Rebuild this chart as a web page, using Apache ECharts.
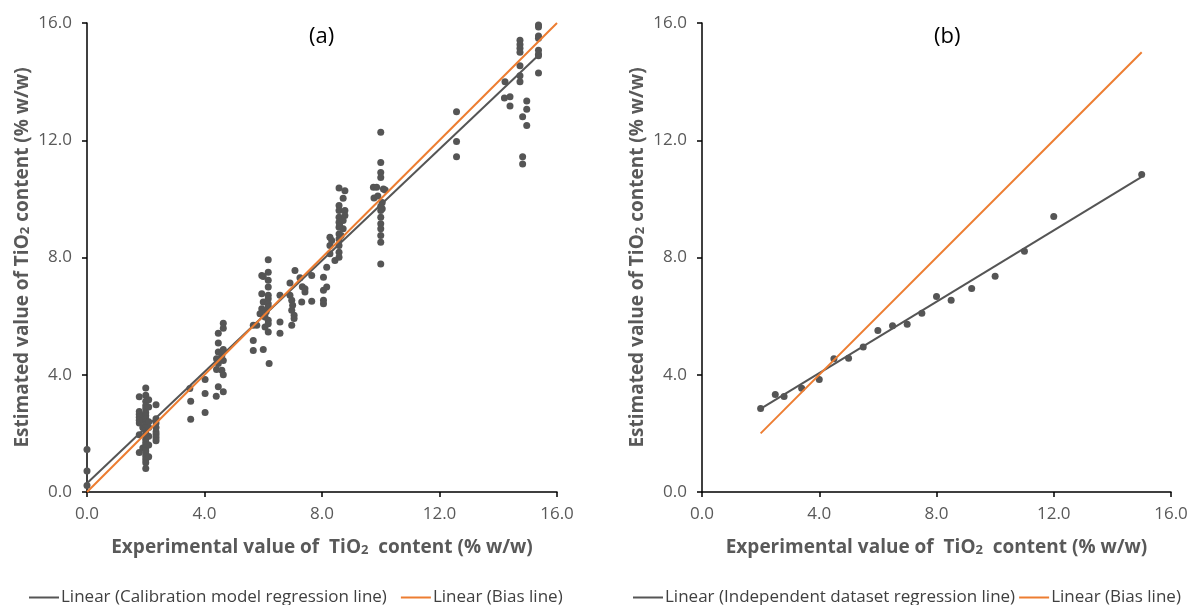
<!DOCTYPE html>
<html>
<head>
<meta charset="utf-8">
<title>TiO2 calibration and independent validation</title>
<script src="https://cdn.jsdelivr.net/npm/echarts@6/dist/echarts.min.js"></script>
<style>
  html, body { margin: 0; padding: 0; background: #fff; }
  #chart { width: 1201px; height: 605px; }
</style>
</head>
<body>
<div id="chart"></div>
<script>
// ---- Data: panel (a) calibration set, [experimental, estimated] (% w/w) ----
const calibrationPoints = [
  [0, 1.45], [0, 0.72], [0, 0.22],
  [1.78, 3.25], [1.78, 2.75], [1.78, 2.65], [1.78, 2.55], [1.78, 2.45], [1.78, 2.35], [1.78, 1.95], [1.78, 1.35],
  [1.9, 2.6], [1.9, 2.45], [1.9, 2.2], [1.9, 1.5],
  [2.0, 3.55], [2.0, 3.3], [2.0, 3.1], [2.0, 2.95], [2.0, 2.85], [2.0, 2.7], [2.0, 2.6], [2.0, 2.5], [2.0, 2.4],
  [2.0, 2.3], [2.0, 2.2], [2.0, 2.1], [2.0, 2.0], [2.0, 1.9], [2.0, 1.8], [2.0, 1.7], [2.0, 1.6], [2.0, 1.5],
  [2.0, 1.4], [2.0, 1.3], [2.0, 1.2], [2.0, 1.1], [2.0, 1.0], [2.0, 0.8],
  [2.1, 3.15], [2.1, 2.9], [2.1, 2.4], [2.1, 2.2], [2.1, 1.9], [2.1, 1.6], [2.1, 1.2],
  [2.35, 2.98], [2.35, 2.5], [2.35, 2.35], [2.35, 2.2], [2.35, 2.05], [2.35, 1.95], [2.35, 1.85], [2.35, 1.75],
  [3.5, 3.53], [3.53, 3.1], [3.53, 2.48], [4.02, 3.84], [4.02, 3.36], [4.02, 2.71],
  [4.47, 5.42], [4.64, 5.76], [4.64, 5.59], [4.47, 5.08], [4.47, 4.78], [4.64, 4.86], [4.59, 4.66], [4.41, 4.55],
  [4.64, 4.49], [4.47, 4.38], [4.41, 4.18], [4.59, 4.15], [4.64, 4.0], [4.47, 3.59], [4.4, 3.27], [4.64, 3.42],
  [5.66, 5.69], [5.66, 5.17], [5.66, 4.83], [6.0, 4.86], [6.2, 4.38],
  [6.17, 7.92], [5.95, 7.39], [6.17, 7.5], [6.17, 7.22], [6.0, 7.35], [6.17, 6.99], [5.95, 6.76], [6.17, 6.71],
  [6.17, 6.59], [6.0, 6.48], [6.17, 6.42], [5.95, 6.25], [6.17, 6.31], [5.89, 6.08], [6.06, 5.97], [6.17, 5.86],
  [5.78, 5.69], [6.06, 5.63], [6.17, 5.74], [6.17, 5.46], [6.1, 6.15],
  [6.57, 6.71], [6.57, 5.8], [6.57, 5.42],
  [7.08, 7.56], [7.25, 7.31], [6.91, 7.13], [7.33, 7.0], [7.42, 6.93], [7.42, 6.82], [6.91, 6.71], [6.97, 6.54],
  [7.0, 6.37], [6.97, 6.2], [7.05, 6.03], [7.05, 5.92], [7.31, 6.48], [6.97, 5.69], [7.65, 7.39], [7.65, 6.51],
  [8.05, 7.33], [8.05, 6.88], [8.16, 6.99], [8.05, 6.54], [8.05, 6.42], [8.16, 7.67], [8.27, 8.13], [8.27, 8.41],
  [8.27, 8.69], [8.44, 7.9], [8.33, 8.58],
  [8.58, 10.37], [8.78, 10.28], [8.72, 10.02], [8.58, 9.77], [8.58, 9.6], [8.78, 9.6], [8.58, 9.37], [8.78, 9.43],
  [8.58, 9.2], [8.72, 9.26], [8.58, 9.03], [8.72, 8.98], [8.58, 8.8], [8.58, 8.63], [8.58, 8.41], [8.58, 8.18],
  [8.58, 8.01], [8.65, 8.75], [8.6, 9.1],
  [10.0, 12.27], [10.0, 11.24], [10.0, 10.9], [10.0, 10.73], [9.75, 10.4], [9.86, 10.4], [10.09, 10.34],
  [10.15, 10.3], [9.77, 10.03], [10.05, 9.88], [10.05, 9.66], [10.0, 9.6], [10.0, 9.37], [10.0, 9.15],
  [10.0, 8.98], [10.0, 8.75], [10.0, 8.52], [10.0, 7.78], [10.0, 9.75], [9.9, 10.1],
  [12.58, 12.97], [12.58, 11.96], [12.58, 11.44],
  [14.21, 13.44], [14.4, 13.48], [14.4, 13.17], [14.23, 14.0],
  [14.74, 15.41], [14.74, 15.27], [14.74, 15.14], [14.74, 15.0], [14.74, 14.54], [14.74, 14.2], [14.74, 14.0],
  [14.97, 13.34], [14.97, 13.06], [14.83, 12.8], [14.97, 12.5], [14.83, 11.44], [14.83, 11.19],
  [15.37, 15.93], [15.37, 15.86], [15.37, 15.56], [15.37, 15.48], [15.37, 15.07], [15.37, 14.93],
  [15.37, 14.88], [15.37, 14.29]
];
// Trendline (Excel linear fit) endpoints for the calibration set
const calibrationTrend = [[0, 0.3], [15.37, 14.9]];
// Ideal y = x line over the calibration range
const calibrationBias = [[0, 0], [16, 16]];

// ---- Data: panel (b) independent dataset ----
const independentX = [2.0, 2.5, 2.8, 3.4, 4.0, 4.5, 5.0, 5.5, 6.0, 6.5, 7.0, 7.5, 8.0, 8.5, 9.2, 10.0, 11.0, 12.0, 15.0];
const independentY = [2.85, 3.33, 3.26, 3.54, 3.84, 4.55, 4.56, 4.95, 5.51, 5.67, 5.72, 6.1, 6.67, 6.54, 6.94, 7.36, 8.21, 9.4, 10.83];
const independentTrend = [[1.98, 2.83], [15.0, 10.75]];
const independentBias = [[2, 2], [15, 15]];

// ---- Axis ticks ----
const axisMin = 0, axisMax = 16, axisStep = 4;

const TEXT = '#595959';
const MARK = '#555555';
const ORANGE = '#ED7D31';
const FONT = '"Open Sans", Lato, sans-serif';

const nameRich = {
  n: { fontFamily: FONT, fontSize: 19, fontWeight: 'bold', color: TEXT },
  s: { fontFamily: FONT, fontSize: 13, fontWeight: 'bold', color: TEXT, padding: [6, 0, 0, 0] }
};
const xName = '{n|Experimental value of  TiO}{s|2}{n|  content (% w/w)}';
const yName = '{n|Estimated value of TiO}{s|2}{n| content (% w/w)}';

function valueAxis(gridIndex, name, isY) {
  return {
    type: 'value', gridIndex,
    min: axisMin, max: axisMax, interval: axisStep,
    name, nameLocation: 'middle', nameGap: isY ? 55 : 46,
    nameTextStyle: { rich: nameRich },
    axisLine: { show: true, onZero: false, lineStyle: { color: '#000', width: 1.5 } },
    axisTick: { show: true, inside: false, length: 5, lineStyle: { color: '#000', width: 1.5 } },
    axisLabel: {
      color: TEXT, fontFamily: FONT, fontSize: 17, margin: isY ? 15 : 14,
      formatter: v => v.toFixed(1)
    },
    splitLine: { show: false }
  };
}

const pointsB = independentX.map((x, i) => [x, independentY[i]]);

const legendBase = {
  top: 584, itemWidth: 30, itemHeight: 2, icon: 'rect',
  textStyle: { color: '#404040', fontFamily: FONT, fontSize: 17, padding: [0, 0, 0, -3] }
};

const chart = echarts.init(document.getElementById('chart'), null, { renderer: 'canvas' });
chart.setOption({
  animation: false,
  backgroundColor: '#fff',
  grid: [
    { left: 87, right: 644, top: 23, bottom: 113 },
    { left: 702, right: 30, top: 23, bottom: 113 }
  ],
  xAxis: [valueAxis(0, xName, false), valueAxis(1, xName, false)],
  yAxis: [valueAxis(0, yName, true), valueAxis(1, yName, true)],
  legend: [
    Object.assign({}, legendBase, {
      left: 24, itemGap: 14,
      data: ['Linear (Calibration model regression line)', 'Linear (Bias line)']
    }),
    Object.assign({}, legendBase, {
      left: 628, itemGap: 4,
      data: ['Linear (Independent dataset regression line)', 'Linear (Bias line)']
    })
  ],
  graphic: [
    { type: 'text', left: 309, top: 26, style: { text: '(a)', fill: '#000', font: '22px ' + FONT } },
    { type: 'text', left: 934, top: 26, style: { text: '(b)', fill: '#000', font: '22px ' + FONT } }
  ],
  series: [
    {
      name: 'Calibration set', type: 'scatter', xAxisIndex: 0, yAxisIndex: 0, clip: false,
      symbol: 'circle', symbolSize: 7, itemStyle: { color: MARK, opacity: 1 }, data: calibrationPoints
    },
    {
      name: 'Linear (Calibration model regression line)', type: 'line', xAxisIndex: 0, yAxisIndex: 0,
      symbol: 'none', lineStyle: { color: MARK, width: 2 }, itemStyle: { color: MARK }, data: calibrationTrend
    },
    {
      name: 'Linear (Bias line)', type: 'line', xAxisIndex: 0, yAxisIndex: 0,
      symbol: 'none', lineStyle: { color: ORANGE, width: 2 }, itemStyle: { color: ORANGE }, data: calibrationBias
    },
    {
      name: 'Independent dataset', type: 'scatter', xAxisIndex: 1, yAxisIndex: 1, clip: false,
      symbol: 'circle', symbolSize: 7, itemStyle: { color: MARK, opacity: 1 }, data: pointsB
    },
    {
      name: 'Linear (Independent dataset regression line)', type: 'line', xAxisIndex: 1, yAxisIndex: 1,
      symbol: 'none', lineStyle: { color: MARK, width: 2 }, itemStyle: { color: MARK }, data: independentTrend
    },
    {
      name: 'Linear (Bias line)', type: 'line', xAxisIndex: 1, yAxisIndex: 1,
      symbol: 'none', lineStyle: { color: ORANGE, width: 2 }, itemStyle: { color: ORANGE }, data: independentBias
    }
  ]
});
</script>
</body>
</html>
